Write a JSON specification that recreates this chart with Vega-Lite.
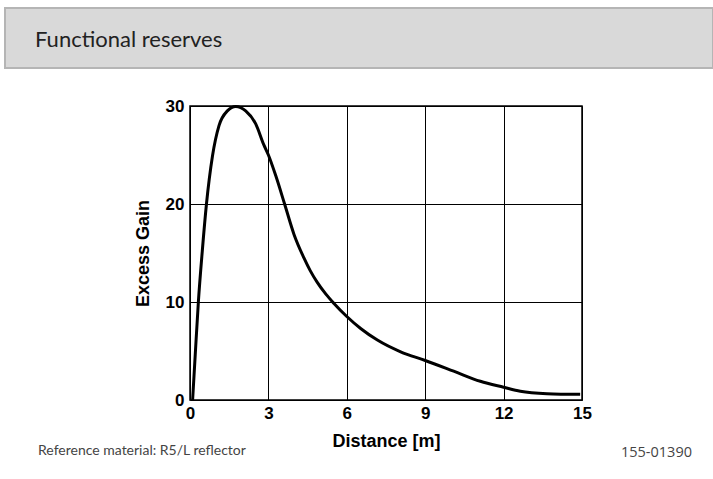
{
  "$schema": "https://vega.github.io/schema/vega-lite/v6.json",
  "background": "white",
  "padding": {"left": 4, "top": 7, "right": 0, "bottom": 0},
  "autosize": {"type": "pad"},
  "config": {
    "view": {"stroke": null},
    "font": "Liberation Sans",
    "axis": {
      "domain": false,
      "ticks": false,
      "grid": true,
      "gridColor": "#000000",
      "gridWidth": 1,
      "gridOpacity": 1,
      "labelFont": "Liberation Sans",
      "labelFontWeight": "bold",
      "labelFontSize": 17,
      "labelColor": "#000000",
      "labelFlush": false,
      "titleFont": "Liberation Sans",
      "titleFontWeight": "bold",
      "titleFontSize": 18,
      "titleColor": "#000000"
    }
  },
  "title": {
    "text": "155-01390",
    "orient": "bottom",
    "anchor": "end",
    "frame": "bounds",
    "offset": -13,
    "dx": -22,
    "baseline": "top",
    "font": "Open Sans",
    "fontSize": 14.5,
    "fontWeight": "normal",
    "color": "#444444"
  },
  "spacing": 27,
  "vconcat": [
    {
      "width": 708,
      "height": 60,
      "view": {"fill": "#d9d9d9", "stroke": "#b5b5b5", "strokeWidth": 2},
      "title": {
        "text": "Functional reserves",
        "orient": "top",
        "anchor": "start",
        "frame": "group",
        "offset": -54,
        "dx": 30,
        "baseline": "middle",
        "font": "Lato",
        "fontSize": 22,
        "fontWeight": "normal",
        "color": "#222222"
      },
      "data": {"values": []},
      "mark": "rect",
      "encoding": {}
    },
    {
      "spacing": 0,
      "hconcat": [
        {
          "width": 32,
          "height": 294,
          "data": {"values": []},
          "mark": "point",
          "encoding": {}
        },
        {
          "width": 392,
          "height": 294,
          "view": {"stroke": "#000000", "strokeWidth": 1.5},
          "title": {
            "text": "Reference material: R5/L reflector",
            "orient": "bottom",
            "anchor": "start",
            "frame": "group",
            "offset": -6,
            "dx": -152,
            "align": "left",
            "baseline": "top",
            "font": "Lato",
            "fontSize": 14,
            "fontWeight": "normal",
            "color": "#444444"
          },
          "data": {
            "values": [
              {"distance": 0.1, "gain": 0},
              {"distance": 0.2, "gain": 4.6},
              {"distance": 0.32, "gain": 10},
              {"distance": 0.47, "gain": 15.2},
              {"distance": 0.63, "gain": 20},
              {"distance": 0.86, "gain": 24.9},
              {"distance": 1.11, "gain": 28.0},
              {"distance": 1.43, "gain": 29.5},
              {"distance": 1.75, "gain": 29.95},
              {"distance": 2.13, "gain": 29.5},
              {"distance": 2.51, "gain": 28.2},
              {"distance": 2.83, "gain": 26.0},
              {"distance": 3.0, "gain": 25.0},
              {"distance": 3.28, "gain": 22.9},
              {"distance": 3.62, "gain": 20.0},
              {"distance": 3.98, "gain": 16.9},
              {"distance": 4.36, "gain": 14.5},
              {"distance": 4.6, "gain": 13.2},
              {"distance": 4.87, "gain": 12.0},
              {"distance": 5.2, "gain": 10.8},
              {"distance": 5.51, "gain": 9.85},
              {"distance": 6.0, "gain": 8.52},
              {"distance": 6.53, "gain": 7.3},
              {"distance": 7.17, "gain": 6.12},
              {"distance": 8.06, "gain": 4.92},
              {"distance": 9.0, "gain": 4.03},
              {"distance": 10.09, "gain": 2.94},
              {"distance": 11.11, "gain": 1.91},
              {"distance": 12.0, "gain": 1.3},
              {"distance": 12.64, "gain": 0.89},
              {"distance": 13.66, "gain": 0.65},
              {"distance": 14.93, "gain": 0.58}
            ]
          },
          "mark": {"type": "line", "color": "#000000", "strokeWidth": 3, "interpolate": "monotone"},
          "encoding": {
            "x": {
              "field": "distance",
              "type": "quantitative",
              "scale": {"domain": [0, 15], "nice": false, "zero": false},
              "axis": {"values": [0, 3, 6, 9, 12, 15], "title": "Distance [m]", "labelPadding": 5, "titlePadding": 11}
            },
            "y": {
              "field": "gain",
              "type": "quantitative",
              "scale": {"domain": [0, 30], "nice": false},
              "axis": {"values": [0, 10, 20, 30], "title": "Excess Gain", "labelPadding": 6, "titlePadding": 13}
            }
          }
        }
      ]
    }
  ]
}
